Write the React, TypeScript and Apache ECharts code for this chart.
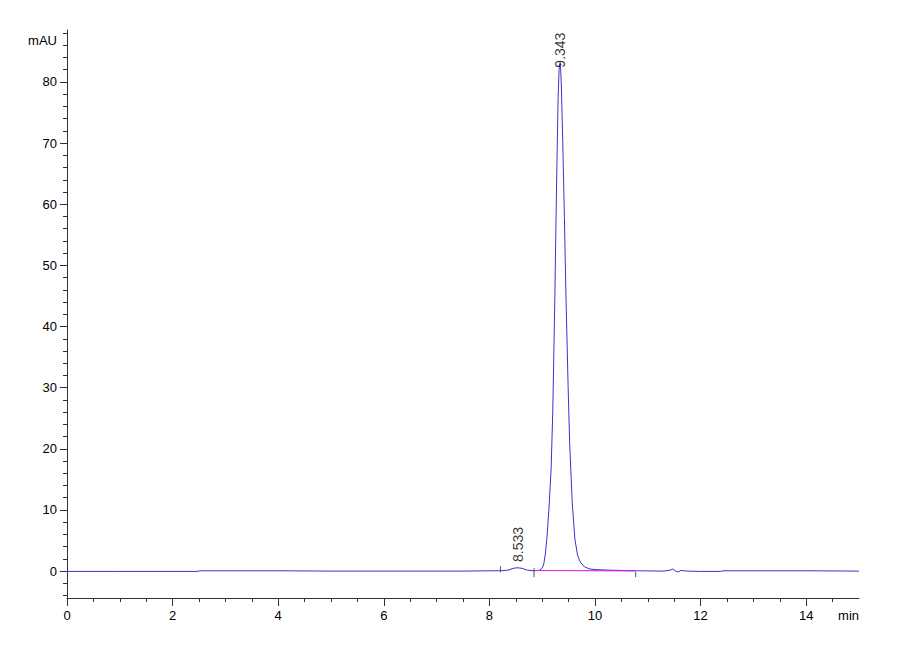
import { useEffect, useRef } from "react";
import * as echarts from "echarts";

// chromatogram trace (time in min, signal in mAU)
const traceTime = [
  0, 1.0, 2.48, 2.52, 4.0, 5.0, 6.5, 7.5, 8.0, 8.2, 8.35, 8.45, 8.53, 8.62,
  8.72, 8.85, 8.95, 9.0, 9.03, 9.06, 9.09, 9.13, 9.17, 9.2, 9.24, 9.27, 9.3,
  9.32, 9.335, 9.35, 9.364, 9.39, 9.42, 9.45, 9.49, 9.52, 9.57, 9.62, 9.67,
  9.72, 9.8, 9.9, 10.0, 10.3, 10.8, 11.3, 11.42, 11.47, 11.52, 11.57, 11.63,
  11.75, 12.0, 12.38, 12.42, 13.0, 14.0, 15.0,
];
const traceSignal = [
  -0.05, -0.05, -0.05, 0.05, 0.05, 0.0, 0.0, 0.0, 0.05, 0.05, 0.15, 0.45, 0.55,
  0.45, 0.15, 0.05, 0.15, 0.5, 1.2, 2.8, 5.5, 10.5, 17, 26, 45, 62, 77, 82, 83,
  82, 79, 70, 58, 45, 30.5, 21, 11, 5.2, 2.6, 1.5, 0.7, 0.35, 0.25, 0.15, 0.05,
  0.0, 0.15, 0.35, 0.05, -0.15, 0.1, 0.0, -0.05, -0.05, 0.05, 0.05, 0.05, 0.0,
];

// labelled peaks
const peakTimes = [8.533, 9.343];
const peakHeights = [0.5, 83];
const peakNames = ["8.533", "9.343"];

// integration events (tick marks on the baseline)
const eventTimes = [8.21, 8.845, 10.77];
const eventTop = [0.8, 0.5, -0.15];
const eventBottom = [-0.2, -1.0, -1.0];

// drawn baseline under the main peak
const baseTimes = [8.845, 10.77];
const baseSignal = [0.1, 0.05];

// axis ticks
const yLabels = [0, 10, 20, 30, 40, 50, 60, 70, 80];
const yMinor = [-4, -2, 2, 4, 6, 8, 12, 14, 16, 18, 22, 24, 26, 28, 32, 34, 36, 38, 42, 44, 46, 48, 52, 54, 56, 58, 62, 64, 66, 68, 72, 74, 76, 78, 82, 84, 86, 88];
const xLabels = [0, 2, 4, 6, 8, 10, 12, 14];
const xMinor = [0.5, 1, 1.5, 2.5, 3, 3.5, 4.5, 5, 5.5, 6.5, 7, 7.5, 8.5, 9, 9.5, 10.5, 11, 11.5, 12.5, 13, 13.5, 14.5];

const FONT = "Liberation Sans, Arial, sans-serif";
const AXIS = "#333";

export default function App() {
  const chartRef = useRef<HTMLDivElement>(null);

  useEffect(() => {
    if (!chartRef.current) return;
    const chart = echarts.init(chartRef.current, null, { renderer: "svg" });

    const eventSeries = eventTimes.map((t, i) => ({
      type: "line",
      silent: true,
      symbol: "none",
      z: 4,
      lineStyle: { color: "#555", width: 1 },
      data: [
        [t, eventTop[i]],
        [t, eventBottom[i]],
      ],
    }));

    chart.setOption({
      animation: false,
      backgroundColor: "#fff",
      textStyle: { fontFamily: FONT },
      grid: { left: 67, right: 41, top: 30, bottom: 62 },
      xAxis: [
        {
          type: "value",
          min: 0,
          max: 15,
          name: "min",
          nameLocation: "end",
          nameGap: 0,
          nameTextStyle: {
            color: "#000",
            fontSize: 13,
            fontFamily: FONT,
            align: "right",
            verticalAlign: "top",
            padding: [11, 0, 0, 0],
          },
          axisLine: { onZero: false, lineStyle: { color: AXIS } },
          axisTick: { length: 8, customValues: xLabels, lineStyle: { color: AXIS } },
          axisLabel: { customValues: xLabels, color: "#000", fontSize: 13, margin: 11 },
          splitLine: { show: false },
        },
        {
          type: "value",
          min: 0,
          max: 15,
          position: "bottom",
          axisLine: { show: false, onZero: false },
          axisTick: { length: 4, customValues: xMinor, lineStyle: { color: AXIS } },
          axisLabel: { show: false },
          splitLine: { show: false },
        },
      ],
      yAxis: [
        {
          type: "value",
          min: -4.4,
          max: 88.5,
          name: "mAU",
          nameLocation: "end",
          nameGap: 0,
          nameTextStyle: {
            color: "#000",
            fontSize: 13,
            fontFamily: FONT,
            align: "right",
            verticalAlign: "top",
            padding: [4, 10, 0, 0],
          },
          axisLine: { show: true, onZero: false, lineStyle: { color: AXIS } },
          axisTick: { show: true, length: 7, customValues: yLabels, lineStyle: { color: AXIS } },
          axisLabel: { customValues: yLabels, color: "#000", fontSize: 13, margin: 10 },
          splitLine: { show: false },
        },
        {
          type: "value",
          min: -4.4,
          max: 88.5,
          position: "left",
          axisLine: { show: false, onZero: false },
          axisTick: { show: true, length: 4, customValues: yMinor, lineStyle: { color: AXIS } },
          axisLabel: { show: false },
          splitLine: { show: false },
        },
      ],
      series: [
        ...eventSeries,
        {
          type: "line",
          name: "trace",
          silent: true,
          symbol: "none",
          z: 2,
          lineStyle: { color: "#3535cc", width: 1 },
          data: traceTime.map((t, i) => [t, traceSignal[i]]),
        },
        {
          type: "line",
          name: "baseline",
          silent: true,
          symbol: "none",
          z: 3,
          lineStyle: { color: "#e024e0", width: 1.2 },
          data: baseTimes.map((t, i) => [t, baseSignal[i]]),
        },
        {
          type: "scatter",
          silent: true,
          symbolSize: 0,
          data: peakTimes.map((t, i) => ({
            value: [t, peakHeights[i]],
            // offset is in the rotated frame: first value runs along the text
            label: { offset: i === 0 ? [6, 0] : [-4, 0] },
          })),
          label: {
            show: true,
            position: "inside",
            rotate: 90,
            align: "left",
            verticalAlign: "middle",
            color: "#000",
            fontSize: 14,
            fontFamily: FONT,
            formatter: (p: any) => peakNames[p.dataIndex],
          },
        },
      ],
    });

    return () => chart.dispose();
  }, []);

  return (
    <div
      ref={chartRef}
      style={{ position: "fixed", left: 0, top: 0, width: 900, height: 660 }}
    />
  );
}
